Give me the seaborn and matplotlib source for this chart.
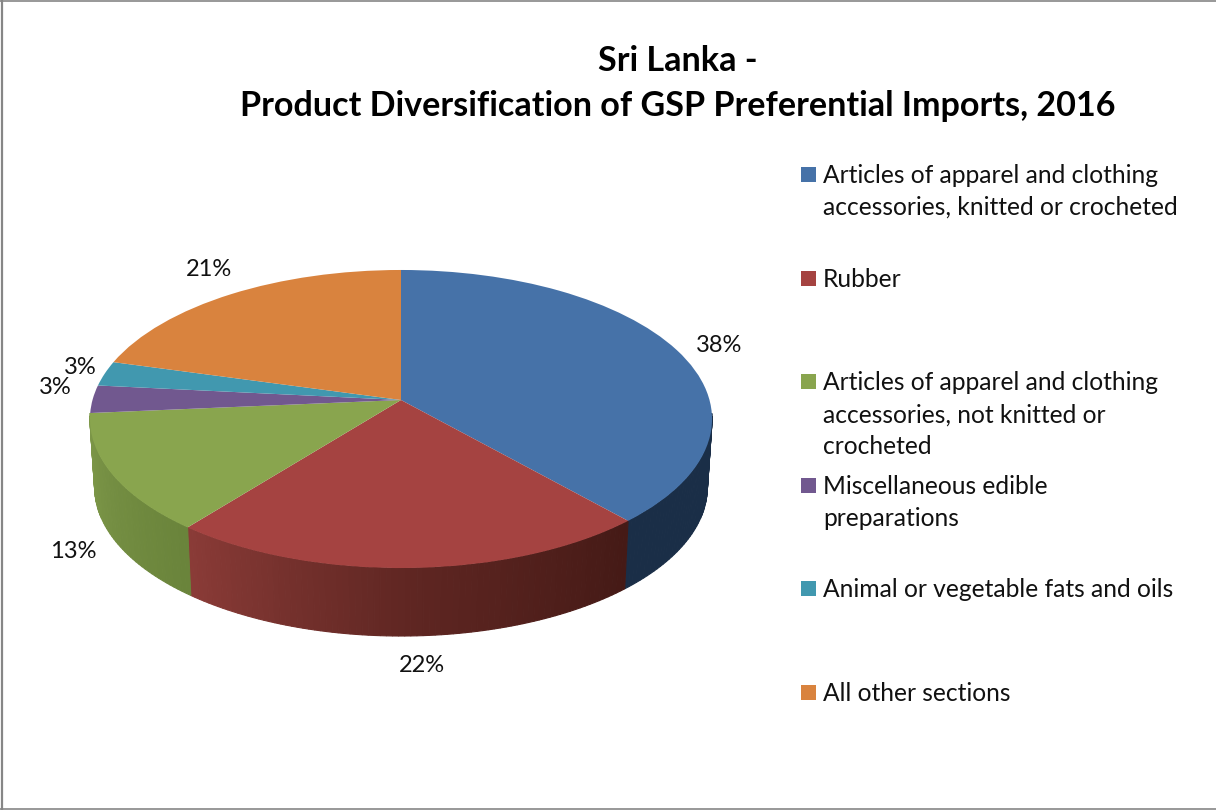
import numpy as np
import matplotlib
matplotlib.use('Agg')
import matplotlib.pyplot as plt
import matplotlib.transforms as mtransforms
from matplotlib.patches import Rectangle
import seaborn as sns

# values, labels round them
categories = [
    'Articles of apparel and clothing\naccessories, knitted or crocheted',
    'Rubber',
    'Articles of apparel and clothing\naccessories, not knitted or\ncrocheted',
    'Miscellaneous edible\npreparations',
    'Animal or vegetable fats and oils',
    'All other sections',
]
shares = [38.4, 22.3, 12.9, 3.0, 2.7, 20.7]
top_colors = ['#4672a8', '#a54341', '#89a54e', '#71588f', '#4198af', '#d9833e']
wall_left = ['#1a2e47', '#8a3b37', '#7f9a4a', '#5a4672', '#34798c', '#a8652e']
wall_mid = ['#1a2e47', '#5f2622', '#748e42', '#5a4672', '#34798c', '#a8652e']
wall_right = ['#1a2e47', '#451a16', '#6a843b', '#5a4672', '#34798c', '#a8652e']
label_pos = [(719, 345), (422, 665), (73, 551), (55, 388), (80, 367), (209, 270)]

font = 'Lato'
sns.set_theme(style='white')
plt.rcParams['font.family'] = [font, 'DejaVu Sans']

# geometry of the tilted disc, in image pixels
cx, cy = 401, 400
persp = 0.1275
scale_x, scale_y = 308.5, 146.6
depth = 68
shrink = 0.985


class TiltedDisc(mtransforms.Transform):
    input_dims = 2
    output_dims = 2

    def transform_non_affine(self, values):
        u, v = values[:, 0], values[:, 1]
        w = 1 + persp * v
        return np.column_stack([cx + scale_x * u / w, cy - scale_y * v / w])


fig = plt.figure(figsize=(12.16, 8.1), dpi=100)
ax = fig.add_axes([0, 0, 1, 1])
wedges, _ = ax.pie(shares, colors=top_colors, startangle=90, counterclock=False,
                   wedgeprops={'linewidth': 0})
ax.set_aspect('auto')
ax.set_xlim(0, 1216)
ax.set_ylim(810, 0)

tilt = TiltedDisc()
for w in wedges:
    w.set_transform(tilt + ax.transData)
    w.set_zorder(5)

# side wall, thin strips under the rim of each slice
for w, c1, c2, c3 in zip(wedges, wall_left, wall_mid, wall_right):
    angles = np.linspace(w.theta1, w.theta2, max(int(w.theta2 - w.theta1), 2) + 1)
    pts = np.column_stack([np.cos(np.radians(angles)), np.sin(np.radians(angles))])
    rim = tilt.transform(pts)
    low = rim.copy()
    low[:, 0] = cx + (rim[:, 0] - cx) * shrink
    low[:, 1] = rim[:, 1] + depth
    # the front slices run left to right as the angle grows
    shades = sns.blend_palette([c1, c2, c3], len(angles) - 1)
    for i in range(len(angles) - 1):
        if pts[i, 1] > -0.1 and pts[i + 1, 1] > -0.1:
            continue
        xs = [rim[i, 0], rim[i + 1, 0], low[i + 1, 0], low[i, 0]]
        ys = [rim[i, 1], rim[i + 1, 1], low[i + 1, 1], low[i, 1]]
        ax.fill(xs, ys, color=shades[i], lw=0.8, zorder=2)

# percent labels
for share, (x, y) in zip(shares, label_pos):
    ax.text(x, y, f'{round(share)}%', fontsize=17, color='#111111',
            ha='center', va='center', zorder=6)

# legend, entries sit at a fixed pitch
for i, (name, col) in enumerate(zip(categories, top_colors)):
    base = 183 + 103.6 * i
    ax.add_patch(Rectangle((801, base - 16), 15, 15, color=col, lw=0, zorder=6))
    for j, line in enumerate(name.split('\n')):
        ax.text(823, base + 32 * j, line, fontsize=17.7, color='#111111',
                ha='left', va='baseline', zorder=6)

# title
ax.text(678, 71, 'Sri Lanka -', fontsize=24.6, fontweight='bold', color='black',
        ha='center', va='baseline')
ax.text(678, 116, 'Product Diversification of GSP Preferential Imports, 2016',
        fontsize=24.6, fontweight='bold', color='black', ha='center', va='baseline')

# frame of the picture
ax.plot([1.5, 1.5], [0, 810], color='#868686', lw=1.6, zorder=7)
ax.plot([0, 1216], [1.2, 1.2], color='#868686', lw=1.2, zorder=7)
ax.plot([0, 1216], [809, 809], color='#868686', lw=1.2, zorder=7)

fig.savefig('out.png', dpi=100)
